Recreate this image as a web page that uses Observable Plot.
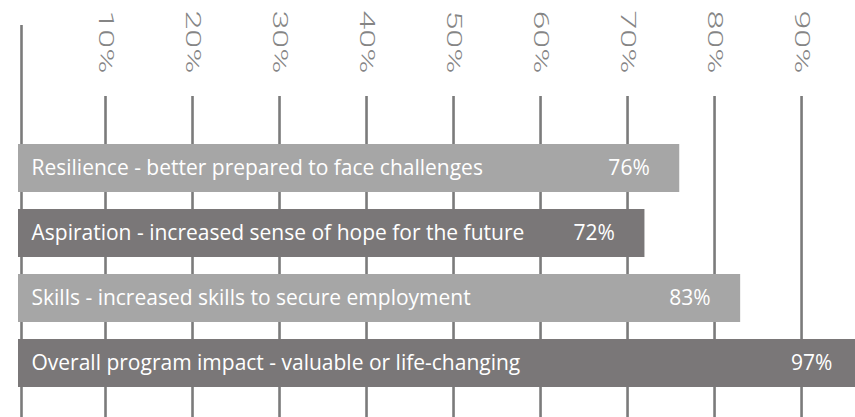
<!DOCTYPE html>
<html>
<head>
<meta charset="utf-8">
<script src="https://cdn.jsdelivr.net/npm/d3@7"></script>
<script src="https://cdn.jsdelivr.net/npm/@observablehq/plot@0.6"></script>
<style>
  html, body { margin: 0; padding: 0; background: #ffffff; }
  #chart { width: 855px; height: 417px; overflow: hidden; }
</style>
</head>
<body>
<div id="chart"></div>
<script>
// Data
const labels = [
  "Resilience - better prepared to face challenges",
  "Aspiration - increased sense of hope for the future",
  "Skills - increased skills to secure employment",
  "Overall program impact - valuable or life-changing"
];
const values = [76, 72, 83, 97];
const tickValues = [10, 20, 30, 40, 50, 60, 70, 80, 90];
const zeroLine = [0];

const rows = labels.map((label, i) => ({label, value: values[i], i}));

const LIGHT = "#a6a6a6";
const DARK = "#7a7778";
const GRID = "#7b7b7b";

const chart = Plot.plot({
  width: 855,
  height: 417,
  marginLeft: 18,
  marginRight: 0,
  marginTop: 0,
  marginBottom: 0,
  style: {background: "#ffffff", overflow: "hidden"},
  x: {domain: [0, 96.2], axis: null},
  y: {domain: labels, range: [134.6, 397.4], paddingInner: 0.254, paddingOuter: 0.127, axis: null},
  marks: [
    Plot.ruleX(tickValues, {x: d => d, stroke: GRID, strokeWidth: 2.6, insetTop: 96}),
    Plot.ruleX(zeroLine, {x: d => d, stroke: GRID, strokeWidth: 2.6, insetTop: 25, dx: 3}),
    Plot.text(tickValues, {
      x: d => d, text: d => d + "%", frameAnchor: "top", dy: 10,
      rotate: 90, textAnchor: "start", lineAnchor: "middle",
      fill: "#858585", fontFamily: "Roboto", fontWeight: 300, fontSize: 20
    }),
    Plot.barX(rows, {x: "value", y: "label", fill: d => d.i % 2 ? DARK : LIGHT}),
    Plot.text(rows, {
      x: () => 0, y: "label", text: "label", textAnchor: "start", dx: 13,
      fill: "#ffffff", fontFamily: "Open Sans", fontSize: 21
    }),
    Plot.text(rows, {
      x: "value", y: "label", text: d => d.value + "%", textAnchor: "end", dx: -30,
      fill: "#ffffff", fontFamily: "Open Sans", fontSize: 21
    })
  ]
});

document.getElementById("chart").appendChild(chart);

// Stretch the rotated tick labels along their reading direction, like the reference's wide type
d3.select(chart).selectAll("text").each(function() {
  const t = this.getAttribute("transform") || "";
  if (t.includes("rotate")) this.setAttribute("transform", t + " scale(1.7,1)");
});
</script>
</body>
</html>
